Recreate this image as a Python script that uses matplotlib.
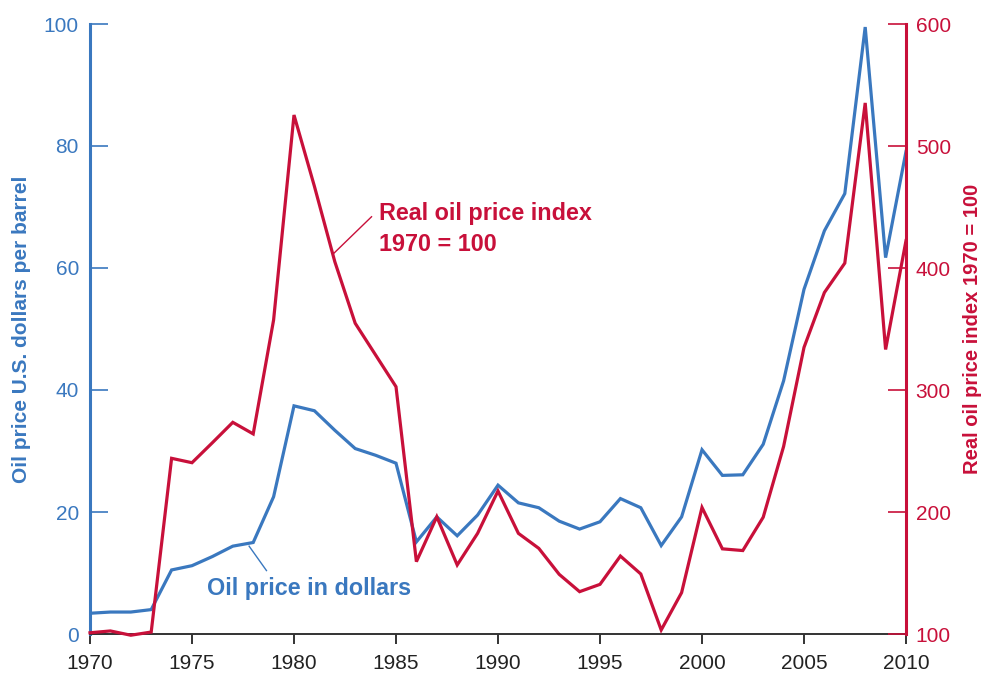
import numpy as np
import matplotlib
matplotlib.use("Agg")
import matplotlib.pyplot as plt

plt.rcParams['font.family'] = ['Liberation Sans', 'DejaVu Sans']

BLUE = '#3a78bf'
RED = '#c8103a'

years = list(range(1970, 2011))

# nominal price, US dollars per barrel
oil_dollars = [3.4, 3.6, 3.6, 4.0, 10.5, 11.2, 12.7, 14.4, 15.0, 22.5,
               37.4, 36.6, 33.4, 30.4, 29.3, 28.0, 15.1, 19.2, 16.1, 19.5,
               24.4, 21.5, 20.7, 18.5, 17.2, 18.4, 22.2, 20.7, 14.5, 19.2,
               30.2, 26.0, 26.1, 31.1, 41.5, 56.5, 66.1, 72.2, 99.5, 61.7,
               79.1]

# real price index, 1970 = 100
real_index = [101, 102.5, 99, 101.6, 244, 240.4, 256.8, 273.5, 264, 357.4,
              525.4, 467, 405.2, 354.7, 328.7, 302.7, 159.3, 196.1, 156.6, 182.5,
              217.2, 182.5, 170.2, 148.9, 134.7, 140.7, 163.9, 149.2, 103.3, 133.9,
              203.7, 169.8, 168.4, 195.7, 253.7, 334.9, 379.9, 404, 535.3, 333.2,
              422.4]

x_ticks = [1970, 1975, 1980, 1985, 1990, 1995, 2000, 2005, 2010]
left_ticks = [0, 20, 40, 60, 80, 100]
right_ticks = [100, 200, 300, 400, 500, 600]

fig = plt.figure(figsize=(9.85, 6.73), dpi=100)
ax = fig.add_axes([90 / 985, 1 - 634 / 673, 816 / 985, 610 / 673])
ax2 = ax.twinx()

ax.plot(years, oil_dollars, color=BLUE, lw=2.3, solid_joinstyle='miter', zorder=3)
ax2.plot(years, real_index, color=RED, lw=2.3, solid_joinstyle='miter', clip_on=False)

ax.set_xlim(1970, 2010)
ax.set_ylim(0, 100)
ax2.set_ylim(100, 600)
ax.set_xticks(x_ticks)
ax.set_yticks(left_ticks)
ax2.set_yticks(right_ticks)

for a in (ax, ax2):
    a.spines['top'].set_visible(False)
    a.patch.set_visible(False)

ax.spines['left'].set_color(BLUE)
ax.spines['left'].set_linewidth(2.2)
ax.spines['right'].set_visible(False)
ax.spines['bottom'].set_color('#333333')
ax.spines['bottom'].set_linewidth(1.4)
ax2.spines['left'].set_visible(False)
ax2.spines['bottom'].set_visible(False)
ax2.spines['right'].set_color(RED)
ax2.spines['right'].set_linewidth(2.2)

ax.tick_params(axis='x', direction='out', length=7.5, width=1.4, color='#333333',
               labelsize=15, labelcolor='#222222', pad=7)
ax.tick_params(axis='y', direction='in', length=13, width=1.2, color=BLUE,
               labelsize=15, labelcolor=BLUE, pad=8)
ax2.tick_params(axis='y', direction='in', length=13, width=1.2, color=RED,
                labelsize=15, labelcolor=RED, pad=7)

ax.set_ylabel('Oil price U.S. dollars per barrel', color=BLUE, fontsize=15,
              fontweight='bold', labelpad=9)
ax2.set_ylabel('Real oil price index 1970 = 100', color=RED, fontsize=14.5,
               fontweight='bold', labelpad=9)

# series labels with short leader lines
ax2.text(1984.15, 432, 'Real oil price index\n1970 = 100', color=RED, fontsize=16.8,
         fontweight='bold', ha='left', va='center', linespacing=1.42)
ax2.plot([1981.95, 1983.8], [412, 442], color=RED, lw=1.0)

ax.text(1975.75, 7.5, 'Oil price in dollars', color=BLUE, fontsize=16.8,
        fontweight='bold', ha='left', va='center')
ax.plot([1977.8, 1978.65], [14.4, 10.4], color=BLUE, lw=1.0)

fig.savefig('out.png', dpi=100)
